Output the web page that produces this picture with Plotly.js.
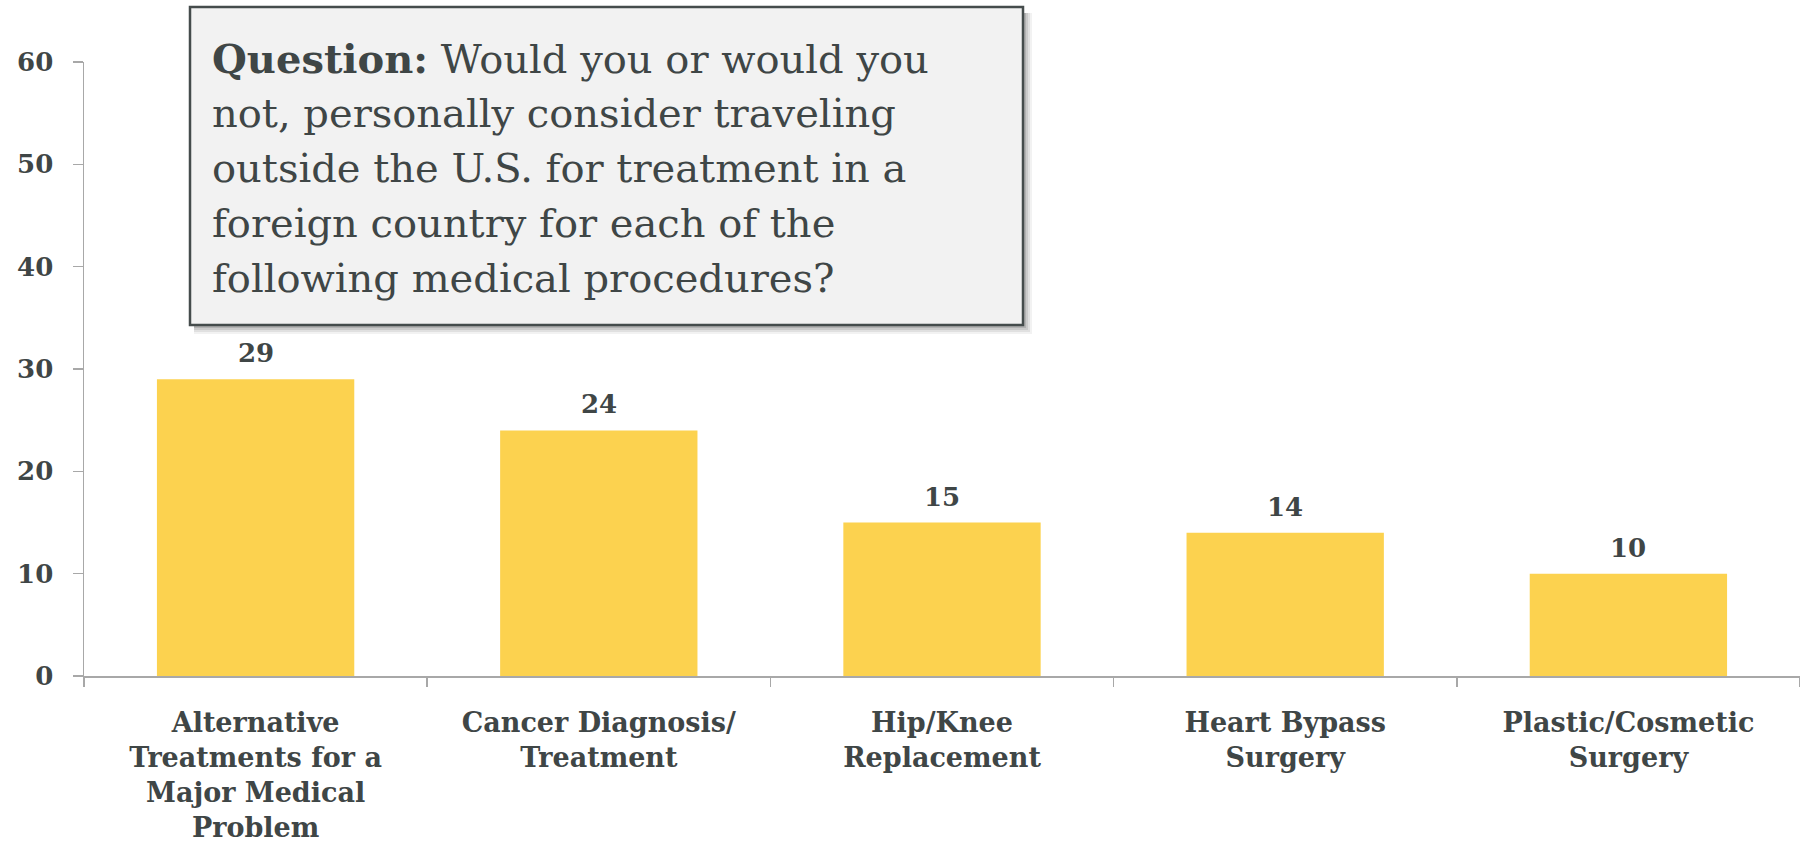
<!DOCTYPE html>
<html>
<head>
<meta charset="utf-8">
<script src="https://cdn.plot.ly/plotly-3.0.1.min.js"></script>
<style>
  html, body { margin: 0; padding: 0; background: #ffffff; }
  #chart { width: 1800px; height: 845px; }
</style>
</head>
<body>
<div id="chart"></div>
<script>
// Share of respondents who would consider travelling abroad for each procedure
const categories = [
  'Alternative<br>Treatments for a<br>Major Medical<br>Problem',
  'Cancer Diagnosis/<br>Treatment',
  'Hip/Knee<br>Replacement',
  'Heart Bypass<br>Surgery',
  'Plastic/Cosmetic<br>Surgery'
];
const values = [29, 24, 15, 14, 10];
const yTicks = [0, 10, 20, 30, 40, 50, 60];

const questionLines = [
  '<b>Question:</b> Would you or would you',
  'not, personally consider traveling',
  'outside the U.S. for treatment in a',
  'foreign country for each of the',
  'following medical procedures?'
];

// Page geometry (pixels) and helpers to convert to paper coordinates
const W = 1800, H = 845;
const M = { l: 84, r: 0, t: 62, b: 169 };
const PW = W - M.l - M.r, PH = H - M.t - M.b;
const px = p => (p - M.l) / PW;
const py = p => 1 - (p - M.t) / PH;

const serif = '"DejaVu Serif", "Liberation Serif", Georgia, serif';
const ink = '#3f4646';
const axisGrey = '#a8a8a8';

const bars = {
  type: 'bar',
  x: categories,
  y: values,
  marker: { color: '#fcd24f' },
  hoverinfo: 'skip'
};

// Value labels above each bar
const valueLabels = categories.map((c, i) => ({
  x: c, y: values[i], xref: 'x', yref: 'y',
  text: String(values[i]),
  showarrow: false, yanchor: 'bottom', yshift: 9,
  font: { family: serif, size: 26, color: ink, weight: 700 }
}));

// Question box with a soft drop shadow
const box = { x0: 190, x1: 1023, y0: 7, y1: 325 };
const shadowShapes = [
  { d: 9, o: 0.05 }, { d: 7, o: 0.07 }, { d: 5, o: 0.09 }, { d: 3, o: 0.12 }
].map(s => ({
  type: 'rect', xref: 'paper', yref: 'paper', layer: 'above',
  x0: px(box.x0 + 4), x1: px(box.x1 + s.d),
  y0: py(box.y1 + s.d), y1: py(box.y0 + 6),
  fillcolor: 'rgba(0,0,0,' + s.o + ')', line: { width: 0 }
}));
const boxShape = {
  type: 'rect', xref: 'paper', yref: 'paper', layer: 'above',
  x0: px(box.x0), x1: px(box.x1), y0: py(box.y1), y1: py(box.y0),
  fillcolor: '#f2f2f2', line: { color: '#454c4c', width: 2.5 }
};

// One annotation per line of the question, spaced 55px apart
const lineGap = 55;
const questionNotes = questionLines.map((t, i) => ({
  xref: 'paper', yref: 'paper',
  x: px(210), y: py(33 + i * lineGap), xanchor: 'left', yanchor: 'top',
  align: 'left', showarrow: false,
  text: t,
  font: { family: serif, size: 40, color: ink }
}));

const layout = {
  width: W, height: H,
  margin: M,
  paper_bgcolor: '#ffffff',
  plot_bgcolor: '#ffffff',
  showlegend: false,
  bargap: 0.425,
  xaxis: {
    type: 'category',
    showline: true, linecolor: axisGrey, linewidth: 1.5,
    ticks: 'outside', tickson: 'boundaries', ticklen: 9,
    tickcolor: axisGrey, tickwidth: 1.5,
    showgrid: false, zeroline: false,
    ticklabelstandoff: 22,
    tickfont: { family: serif, size: 27, color: ink, weight: 700 }
  },
  yaxis: {
    range: [0, 60],
    tickvals: yTicks,
    ticktext: yTicks.map(String),
    showline: true, linecolor: axisGrey, linewidth: 1.5,
    ticks: 'outside', ticklen: 10, tickcolor: axisGrey, tickwidth: 1.5,
    showgrid: false, zeroline: false,
    ticklabelstandoff: 14,
    tickfont: { family: serif, size: 26, color: ink, weight: 700 }
  },
  shapes: shadowShapes.concat([boxShape]),
  annotations: valueLabels.concat(questionNotes)
};

Plotly.newPlot('chart', [bars], layout, { displayModeBar: false, staticPlot: true });
</script>
</body>
</html>
